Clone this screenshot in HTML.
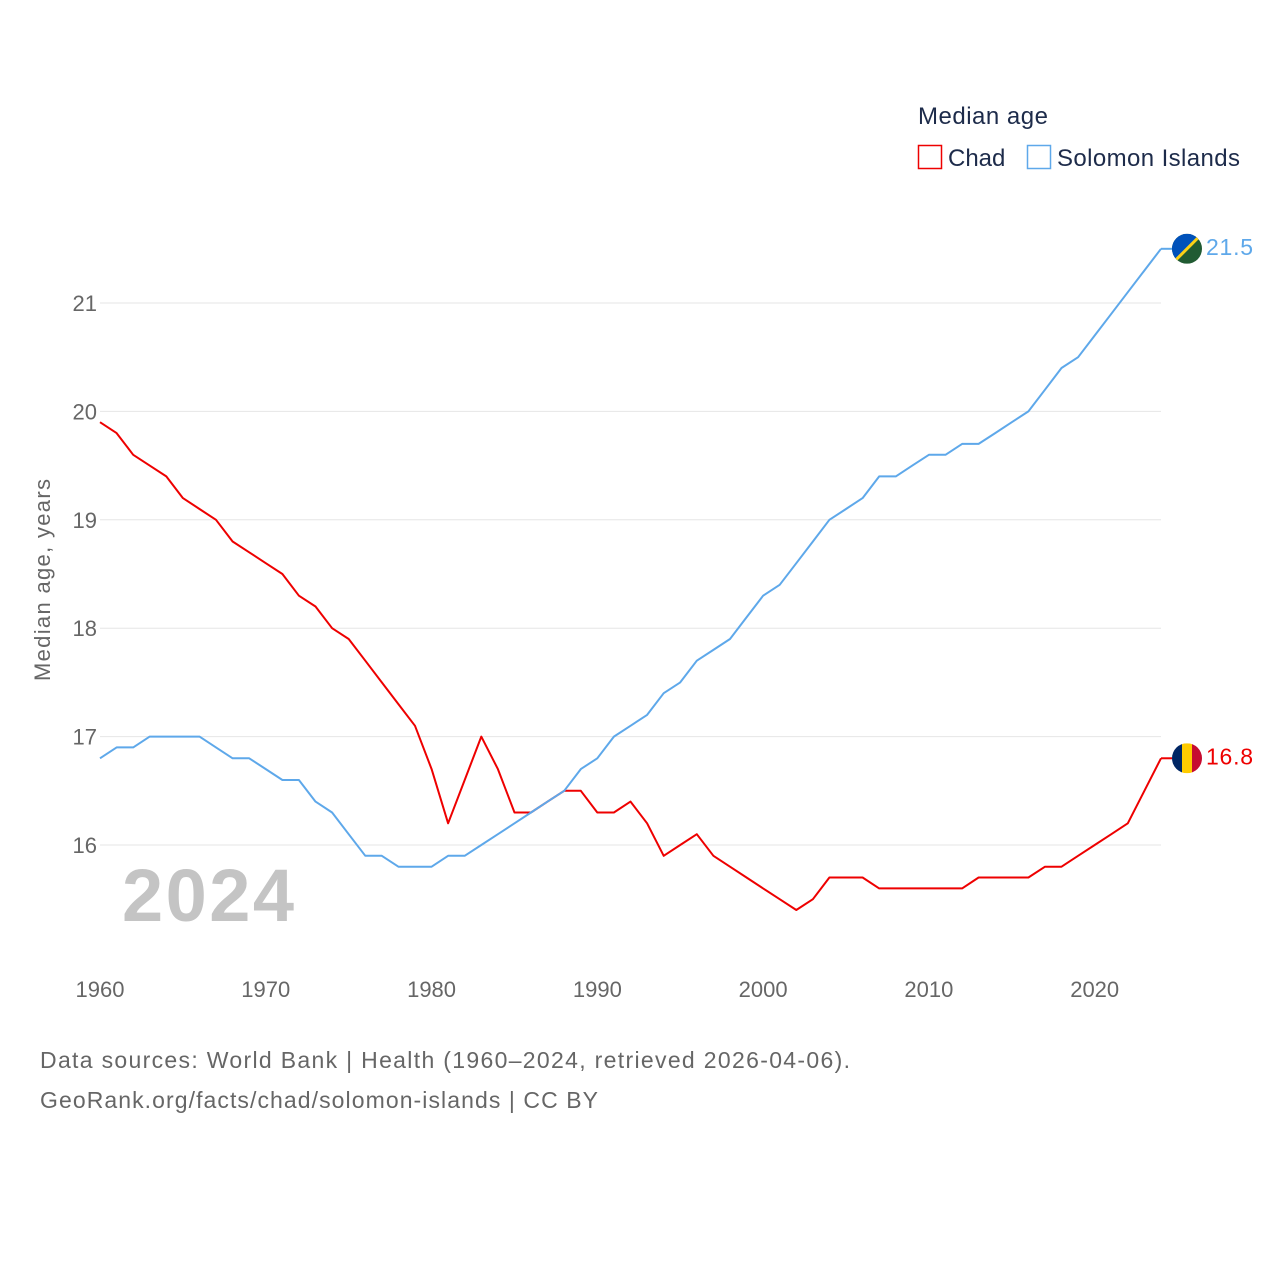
<!DOCTYPE html>
<html><head><meta charset="utf-8"><style>
body{margin:0;background:#fff;font-family:"Liberation Sans",sans-serif;}
svg text{font-family:"Liberation Sans",sans-serif;}
</style></head><body>
<svg id="chart" width="1280" height="1280" xmlns="http://www.w3.org/2000/svg">
<text x="918" y="124" font-size="24" fill="#1d2b4a" textLength="130">Median age</text>
<g><rect x="918.5" y="145.5" width="23" height="23" fill="none" stroke="#ee0000" stroke-width="1.5"/><text x="948" y="166" font-size="24" fill="#1d2b4a">Chad</text></g>
<g><rect x="1027.5" y="145.5" width="23" height="23" fill="none" stroke="#5ea8ea" stroke-width="1.5"/><text x="1057" y="166" font-size="24" fill="#1d2b4a" textLength="183">Solomon Islands</text></g>
<g id="grid"></g>
<text x="208" y="921" font-size="74" font-weight="bold" fill="#c4c4c4" text-anchor="middle" textLength="172">2024</text>
<text transform="translate(50,580) rotate(-90)" font-size="22" fill="#666" text-anchor="middle" textLength="202">Median age, years</text>
<g id="series"></g>
<text x="40" y="1068" font-size="23" fill="#666" textLength="810">Data sources: World Bank | Health (1960–2024, retrieved 2026-04-06).</text>
<text x="40" y="1108" font-size="23" fill="#666" textLength="558">GeoRank.org/facts/chad/solomon-islands | CC BY</text>
</svg>
<script>
const years=[];for(let y=1960;y<=2024;y++)years.push(y);
const chad=[19.9,19.8,19.6,19.5,19.4,19.2,19.1,19.0,18.8,18.7,18.6,18.5,18.3,18.2,18.0,17.9,17.7,17.5,17.3,17.1,16.7,16.2,16.6,17.0,16.7,16.3,16.3,16.4,16.5,16.5,16.3,16.3,16.4,16.2,15.9,16.0,16.1,15.9,15.8,15.7,15.6,15.5,15.4,15.5,15.7,15.7,15.7,15.6,15.6,15.6,15.6,15.6,15.6,15.7,15.7,15.7,15.7,15.8,15.8,15.9,16.0,16.1,16.2,16.5,16.8];
const solomon=[16.8,16.9,16.9,17.0,17.0,17.0,17.0,16.9,16.8,16.8,16.7,16.6,16.6,16.4,16.3,16.1,15.9,15.9,15.8,15.8,15.8,15.9,15.9,16.0,16.1,16.2,16.3,16.4,16.5,16.7,16.8,17.0,17.1,17.2,17.4,17.5,17.7,17.8,17.9,18.1,18.3,18.4,18.6,18.8,19.0,19.1,19.2,19.4,19.4,19.5,19.6,19.6,19.7,19.7,19.8,19.9,20.0,20.2,20.4,20.5,20.7,20.9,21.1,21.3,21.5];
const yTicks=[16,17,18,19,20,21];
const xTicks=[1960,1970,1980,1990,2000,2010,2020];
const NS='http://www.w3.org/2000/svg';
const X=y=>100+(y-1960)*(1061/64);
const Y=v=>845-(v-16)*108.4;
const grid=document.getElementById('grid'),ser=document.getElementById('series');
function mk(tag,a,p){const e=document.createElementNS(NS,tag);for(const k in a)e.setAttribute(k,a[k]);p.appendChild(e);return e;}
yTicks.forEach(t=>{
 const l=mk('line',{x1:100,x2:1161,y1:Y(t),y2:Y(t),stroke:'#e6e6e6','stroke-width':1},grid);
 
 
 const tx=mk('text',{x:97,y:Y(t)+8,'font-size':22,fill:'#666','text-anchor':'end'},grid);tx.textContent=t;
 
 
});
xTicks.forEach(t=>{
 const tx=mk('text',{x:X(t),y:997,'font-size':22,fill:'#666','text-anchor':'middle'},grid);tx.textContent=t;
 
 
});
function line(data,color,name){
 const p=mk('path',{d:data.map((v,i)=>(i?'L':'M')+X(years[i]).toFixed(1)+','+Y(v).toFixed(1)).join(''),fill:'none',stroke:color,'stroke-width':2,'stroke-linejoin':'round'},ser);
 
 
 const last=data[data.length-1],ly=Y(last);
 mk('line',{x1:1161,x2:1172,y1:ly,y2:ly,stroke:color,'stroke-width':2},ser);
 const t=mk('text',{x:1206,y:ly+6,'font-size':23,fill:color,textLength:47},ser);t.textContent=last.toFixed(1);
 
 
 return ly;
}
const cy=line(chad,'#ee0000','chad');
const sy=line(solomon,'#5ea8ea','solomon-islands');
const fc=mk('g',{},ser);


const cp1=mk('clipPath',{id:'c1'},fc);mk('circle',{cx:1187,cy:cy,r:15},cp1);
const g1=mk('g',{'clip-path':'url(#c1)'},fc);
mk('rect',{x:1172,y:cy-15,width:10,height:30,fill:'#002664'},g1);
mk('rect',{x:1182,y:cy-15,width:10,height:30,fill:'#fecb00'},g1);
mk('rect',{x:1192,y:cy-15,width:10,height:30,fill:'#c60c30'},g1);
const fs=mk('g',{},ser);


const cp=mk('clipPath',{id:'c2'},fs);mk('circle',{cx:1187,cy:sy,r:15},cp);
const g2=mk('g',{'clip-path':'url(#c2)'},fs);
mk('rect',{x:1172,y:sy-15,width:30,height:30,fill:'#215b33'},g2);
mk('polygon',{points:`1172,${sy-15} 1202,${sy-15} 1172,${sy+15}`,fill:'#0051ba'},g2);
mk('line',{x1:1202,y1:sy-15,x2:1172,y2:sy+15,stroke:'#fcd116','stroke-width':3},g2);
</script>
</body></html>
